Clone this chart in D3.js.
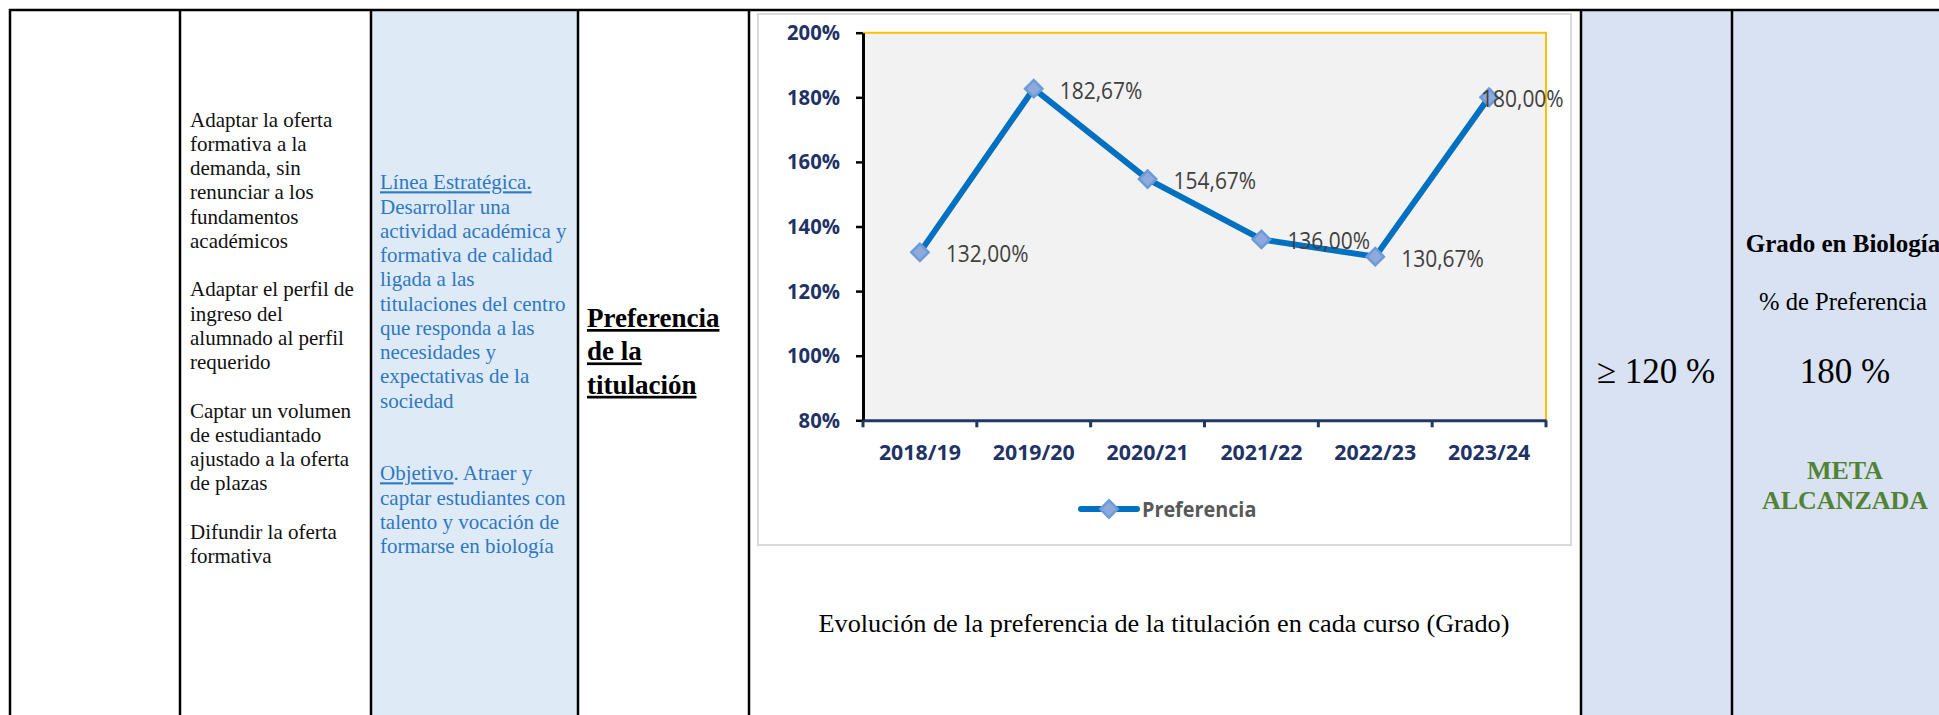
<!DOCTYPE html>
<html>
<head>
<meta charset="utf-8">
<script src="https://cdn.jsdelivr.net/npm/d3@7"></script>
<style>
    body { margin: 0; background: #fff; overflow: hidden; }
    .serif { font-family: "Liberation Serif", "DejaVu Serif", serif; }
    .sans { font-family: "Open Sans", "Liberation Sans", sans-serif; }
</style>
</head>
<body>
<div id="chart-area"></div>
<script>
// Chart data
var cursos = ["2018/19", "2019/20", "2020/21", "2021/22", "2022/23", "2023/24"];
var preferencia = [1.32, 1.8267, 1.5467, 1.36, 1.3067, 1.80];
var yTicks = [0.8, 1.0, 1.2, 1.4, 1.6, 1.8, 2.0];
var serieNombre = "Preferencia";
var tituloGrafico = "Evolución de la preferencia de la titulación en cada curso (Grado)";

// Table text
var objetivosLines = ["Adaptar la oferta", "formativa a la", "demanda, sin", "renunciar a los",
    "fundamentos", "académicos", "", "Adaptar el perfil de", "ingreso del", "alumnado al perfil",
    "requerido", "", "Captar un volumen", "de estudiantado", "ajustado a la oferta", "de plazas",
    "", "Difundir la oferta", "formativa"];
var lineaLines = ["Línea Estratégica.", "Desarrollar una", "actividad académica y",
    "formativa de calidad", "ligada a las", "titulaciones del centro", "que responda a las",
    "necesidades y", "expectativas de la", "sociedad", "", "", "Objetivo. Atraer y",
    "captar estudiantes con", "talento y vocación de", "formarse en biología"];
var indicadorLines = ["Preferencia", "de la", "titulación"];
var metaTexto = "≥ 120 %";
var tituloGrado = "Grado en Biología";
var resultadoNombre = "% de Preferencia";
var resultadoValor = "180 %";
var estadoLines = ["META", "ALCANZADA"];

var W = 1939, H = 715;

var svg = d3.select("#chart-area")
    .append("svg")
    .attr("width", W)
    .attr("height", H);

// squeeze a sans text a bit so it looks like the narrow office font
function condense(sel, k) {
    sel.each(function(){
        var len = this.getComputedTextLength();
        d3.select(this)
            .attr("textLength", len * k)
            .attr("lengthAdjust", "spacingAndGlyphs");
    });
}

// Table columns
var colEdges = [10, 180, 371, 578, 749, 1581, 1732, 1945];
var colFills = ["#fff", "#fff", "#DEEAF6", "#fff", "#fff", "#D9E2F3", "#D9E2F3"];

svg.selectAll(".col")
    .data(colFills)
    .enter().append("rect")
    .attr("class", "col")
    .attr("x", function(d, i){ return colEdges[i]; })
    .attr("y", 10)
    .attr("width", function(d, i){ return colEdges[i + 1] - colEdges[i]; })
    .attr("height", H - 10)
    .attr("fill", function(d){ return d; });

svg.selectAll(".vline")
    .data(colEdges.slice(0, 7))
    .enter().append("line")
    .attr("class", "vline")
    .attr("x1", function(d){ return d; })
    .attr("x2", function(d){ return d; })
    .attr("y1", 9)
    .attr("y2", H)
    .attr("stroke", "#000")
    .attr("stroke-width", 2.5);

svg.append("line")
    .attr("x1", 9).attr("x2", W)
    .attr("y1", 10).attr("y2", 10)
    .attr("stroke", "#000")
    .attr("stroke-width", 2.5);

// Column 2 text
svg.append("g").selectAll("text")
    .data(objetivosLines)
    .enter().append("text")
    .attr("class", "serif")
    .attr("x", 190)
    .attr("y", function(d, i){ return 126.5 + i * 24.25; })
    .attr("font-size", "21px")
    .attr("fill", "#111")
    .text(function(d){ return d; });

// Column 3 text (blue, some underlined)
var lt = svg.append("g").selectAll("text")
    .data(lineaLines)
    .enter().append("text")
    .attr("class", "serif")
    .attr("x", 380)
    .attr("y", function(d, i){ return 189.3 + i * 24.25; })
    .attr("font-size", "21px")
    .attr("fill", "#2E78C2");
lt.each(function(d){
    var el = d3.select(this);
    var m = d.match(/^(Línea Estratégica\.|Objetivo)(.*)$/);
    if (m) {
        el.append("tspan").attr("text-decoration", "underline").text(m[1]);
        el.append("tspan").text(m[2]);
    } else {
        el.text(d);
    }
});

// Column 4
svg.append("g").selectAll("text")
    .data(indicadorLines)
    .enter().append("text")
    .attr("class", "serif")
    .attr("x", 587)
    .attr("y", function(d, i){ return 327 + i * 33.4; })
    .attr("font-size", "27px")
    .attr("font-weight", "bold")
    .attr("text-decoration", "underline")
    .attr("fill", "#000")
    .text(function(d){ return d; });

// Column 6 and 7
svg.append("text")
    .attr("class", "serif")
    .attr("x", 1656).attr("y", 382.7)
    .attr("text-anchor", "middle")
    .attr("font-size", "35px")
    .text(metaTexto);

svg.append("text")
    .attr("class", "serif")
    .attr("x", 1843).attr("y", 251.7)
    .attr("text-anchor", "middle")
    .attr("font-size", "25px")
    .attr("font-weight", "bold")
    .text(tituloGrado);
svg.append("text")
    .attr("class", "serif")
    .attr("x", 1843).attr("y", 310)
    .attr("text-anchor", "middle")
    .attr("font-size", "24.6px")
    .text(resultadoNombre);
svg.append("text")
    .attr("class", "serif")
    .attr("x", 1845).attr("y", 382.7)
    .attr("text-anchor", "middle")
    .attr("font-size", "35px")
    .text(resultadoValor);
svg.append("g").selectAll("text")
    .data(estadoLines)
    .enter().append("text")
    .attr("class", "serif")
    .attr("x", 1845)
    .attr("y", function(d, i){ return 479 + i * 30; })
    .attr("text-anchor", "middle")
    .attr("font-size", "26px")
    .attr("font-weight", "bold")
    .attr("fill", "#548235")
    .text(function(d){ return d; });

// Chart frame
svg.append("rect")
    .attr("x", 758).attr("y", 14)
    .attr("width", 813).attr("height", 531)
    .attr("fill", "#fff")
    .attr("stroke", "#D9D9D9")
    .attr("stroke-width", 2);

// Scales
var x = d3.scaleBand().domain(cursos).range([863, 1546]);
var y = d3.scaleLinear().domain([0.8, 2.0]).range([420.3, 32.7]);

var esLocale = d3.formatLocale({ decimal: ",", thousands: ".", grouping: [3], currency: ["", "€"] });
var fmtLabel = esLocale.format(".2%");
var fmtTick = esLocale.format(".0%");

var g = svg.append("g");

// Plot area
g.append("rect")
    .attr("x", x.range()[0]).attr("y", y(2.0))
    .attr("width", x.range()[1] - x.range()[0])
    .attr("height", y(0.8) - y(2.0))
    .attr("fill", "#F2F2F2");
g.append("path")
    .attr("d", "M" + x.range()[0] + "," + y(2.0) + "H" + x.range()[1] + "V" + y(0.8))
    .attr("fill", "none")
    .attr("stroke", "#FFC000")
    .attr("stroke-width", 2);

// Y-axis
var yAxisCall = d3.axisLeft(y)
    .tickValues(yTicks)
    .tickSize(7)
    .tickSizeOuter(0)
    .tickPadding(16)
    .tickFormat(fmtTick);
var yAxis = g.append("g")
    .attr("class", "y axis sans")
    .attr("transform", "translate(" + x.range()[0] + ",0)")
    .call(yAxisCall);
yAxis.select(".domain").attr("stroke", "#000").attr("stroke-width", 3);
yAxis.selectAll(".tick line").attr("stroke", "#000").attr("stroke-width", 2.5);
yAxis.selectAll(".tick text")
    .attr("font-family", null)
    .attr("font-size", "22px")
    .attr("font-weight", "bold")
    .attr("fill", "#1F3366")
    .call(condense, 0.92);

// X-axis
var xAxisCall = d3.axisBottom(x).tickSize(0).tickPadding(24);
var xAxis = g.append("g")
    .attr("class", "x axis sans")
    .attr("transform", "translate(0," + y(0.8) + ")")
    .call(xAxisCall);
xAxis.select(".domain").attr("stroke", "#1F3864").attr("stroke-width", 3);
xAxis.selectAll(".tick text")
    .attr("font-family", null)
    .attr("font-size", "22px")
    .attr("font-weight", "bold")
    .attr("fill", "#1F3366")
    .call(condense, 0.97);
// category boundary ticks
xAxis.selectAll(".bound")
    .data(d3.range(cursos.length + 1))
    .enter().append("line")
    .attr("class", "bound")
    .attr("x1", function(i){ return x.range()[0] + i * x.step(); })
    .attr("x2", function(i){ return x.range()[0] + i * x.step(); })
    .attr("y1", 0).attr("y2", 7)
    .attr("stroke", "#1F3864")
    .attr("stroke-width", 3);

var cx = function(d, i){ return x(cursos[i]) + x.bandwidth() / 2; };

// Line
var line = d3.line()
    .x(function(d, i){ return cx(d, i); })
    .y(function(d){ return y(d); });
g.append("path")
    .attr("d", line(preferencia))
    .attr("fill", "none")
    .attr("stroke", "#0070C0")
    .attr("stroke-width", 6)
    .attr("stroke-linejoin", "round");

// Markers
var diamond = d3.symbol().type(d3.symbolSquare).size(150);
g.selectAll(".marker")
    .data(preferencia)
    .enter().append("path")
    .attr("class", "marker")
    .attr("d", diamond)
    .attr("transform", function(d, i){ return "translate(" + cx(d, i) + "," + y(d) + ") rotate(45)"; })
    .attr("fill", "#8EA9DB")
    .attr("stroke", "#6C9BD8")
    .attr("stroke-width", 2.5);

// Data labels
g.selectAll(".label")
    .data(preferencia)
    .enter().append("text")
    .attr("class", "label sans")
    .attr("x", function(d, i){ return cx(d, i) + (i == preferencia.length - 1 ? -8 : 26); })
    .attr("y", function(d){ return y(d) + 2; })
    .attr("dy", "0.35em")
    .attr("font-size", "23px")
    .attr("fill", "#404040")
    .text(function(d){ return fmtLabel(d); })
    .call(condense, 0.91);

// Legend
var legend = g.append("g").attr("transform", "translate(1081,509)");
legend.append("line")
    .attr("x1", 0).attr("x2", 56)
    .attr("stroke", "#0070C0")
    .attr("stroke-width", 6)
    .attr("stroke-linecap", "round");
legend.append("path")
    .attr("d", diamond)
    .attr("transform", "translate(28,0) rotate(45)")
    .attr("fill", "#8EA9DB")
    .attr("stroke", "#6C9BD8")
    .attr("stroke-width", 2.5);
legend.append("text")
    .attr("class", "sans")
    .attr("x", 61)
    .attr("dy", "0.35em")
    .attr("font-size", "22px")
    .attr("font-weight", "bold")
    .attr("fill", "#595959")
    .text(serieNombre)
    .call(condense, 0.9);

// Caption under the chart
svg.append("text")
    .attr("class", "serif")
    .attr("x", 1164).attr("y", 632)
    .attr("text-anchor", "middle")
    .attr("font-size", "25px")
    .attr("textLength", 691)
    .attr("lengthAdjust", "spacingAndGlyphs")
    .text(tituloGrafico);
</script>
</body>
</html>
